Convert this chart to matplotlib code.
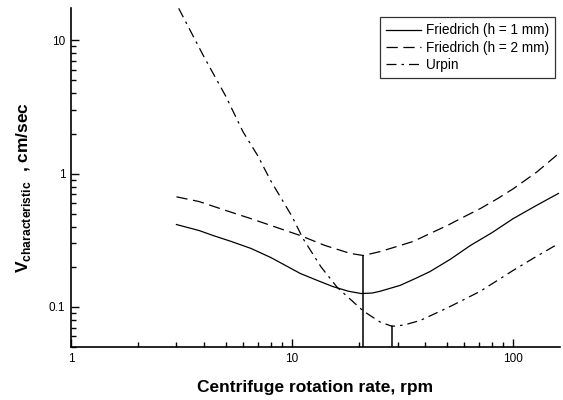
import matplotlib
matplotlib.use("Agg")
import matplotlib.pyplot as plt
from matplotlib.ticker import LogLocator, NullFormatter, FixedLocator, FixedFormatter

plt.rcParams['font.family'] = ['Liberation Sans', 'DejaVu Sans']
plt.rcParams['mathtext.fontset'] = 'custom'
plt.rcParams['mathtext.rm'] = 'Liberation Sans'
plt.rcParams['mathtext.bf'] = 'Liberation Sans:bold'

# Friedrich (h = 1 mm)
f1_x = [3.0, 3.8, 4.4, 5.3, 6.5, 8.0, 10.9, 13.0, 15.3, 18.0, 20.5, 23.0, 25.0, 30.8, 36.0, 42.0, 52.0, 64.0, 80.0, 100.0, 128.0, 160.0]
f1_y = [0.415, 0.374, 0.343, 0.31, 0.275, 0.235, 0.178, 0.158, 0.142, 0.131, 0.126, 0.127, 0.131, 0.145, 0.163, 0.184, 0.228, 0.289, 0.36, 0.46, 0.58, 0.71]

# Friedrich (h = 2 mm)
f2_x = [3.0, 3.8, 5.0, 6.5, 8.5, 10.9, 14.0, 18.3, 21.0, 25.0, 30.0, 35.3, 42.0, 50.3, 60.0, 71.0, 85.0, 100.0, 128.0, 160.0]
f2_y = [0.67, 0.617, 0.53, 0.46, 0.395, 0.343, 0.29, 0.252, 0.243, 0.26, 0.285, 0.31, 0.355, 0.408, 0.475, 0.547, 0.65, 0.77, 1.03, 1.41]

# Urpin
u_x = [3.07, 4.0, 5.0, 6.0, 7.0, 8.0, 10.0, 11.2, 13.5, 16.0, 21.0, 25.0, 28.3, 32.0, 37.9, 50.8, 71.0, 100.0, 125.0, 155.0]
u_y = [17.4, 7.5, 3.84, 2.06, 1.36, 0.886, 0.476, 0.326, 0.2, 0.14, 0.093, 0.077, 0.0715, 0.073, 0.079, 0.099, 0.131, 0.188, 0.235, 0.289]

# vertical markers at the minima
vline_x = [20.9, 28.3]
vline_top = [0.243, 0.0715]

labels = ['Friedrich (h = 1 mm)', 'Friedrich (h = 2 mm)', 'Urpin']

fig = plt.figure(figsize=(5.63, 4.00), dpi=100)
ax = fig.add_axes([0.126, 0.1325, 0.869, 0.8475])

lw = 0.9
ax.plot(f1_x, f1_y, color='black', lw=lw, ls='-', label=labels[0])
ax.plot(f2_x, f2_y, color='black', lw=lw, ls=(0, (9, 4.5)), label=labels[1])
ax.plot(u_x, u_y, color='black', lw=lw, ls=(0, (8, 4, 2, 4)), label=labels[2])

ymin = 0.05
for xv, yt in zip(vline_x, vline_top):
    ax.plot([xv, xv], [ymin, yt], color='black', lw=1.1)

ax.set_xscale('log')
ax.set_yscale('log')
ax.set_xlim(1, 163)
ax.set_ylim(ymin, 17.5)

for s in ['top', 'right']:
    ax.spines[s].set_visible(False)
for s in ['left', 'bottom']:
    ax.spines[s].set_linewidth(1.2)

ax.xaxis.set_major_locator(FixedLocator([1, 10, 100]))
ax.xaxis.set_major_formatter(FixedFormatter(['1', '10', '100']))
ax.yaxis.set_major_locator(FixedLocator([0.1, 1, 10]))
ax.yaxis.set_major_formatter(FixedFormatter(['0.1', '1', '10']))
ax.xaxis.set_minor_locator(LogLocator(base=10, subs=range(2, 10)))
ax.yaxis.set_minor_locator(LogLocator(base=10, subs=range(2, 10)))
ax.xaxis.set_minor_formatter(NullFormatter())
ax.yaxis.set_minor_formatter(NullFormatter())
ax.tick_params(which='major', direction='in', length=6, width=1, labelsize=8.5, pad=4)
ax.tick_params(which='minor', direction='in', length=3.5, width=1)

ax.set_xlabel('Centrifuge rotation rate, rpm', fontsize=12.5, fontweight='bold', labelpad=11)
ax.set_ylabel(r'$\mathbf{V}_{\mathbf{characteristic}}$  , cm/sec', fontsize=12.5,
              fontweight='bold')
ax.yaxis.set_label_coords(-0.078, 0.472)

leg = ax.legend(loc='upper right', bbox_to_anchor=(0.99, 0.973), fontsize=9.8,
                frameon=True, fancybox=False, edgecolor='black', handlelength=2.6,
                handletextpad=0.35, borderpad=0.45, labelspacing=0.25, borderaxespad=0)
leg.get_frame().set_linewidth(0.9)

fig.savefig('out.png', dpi=100)
